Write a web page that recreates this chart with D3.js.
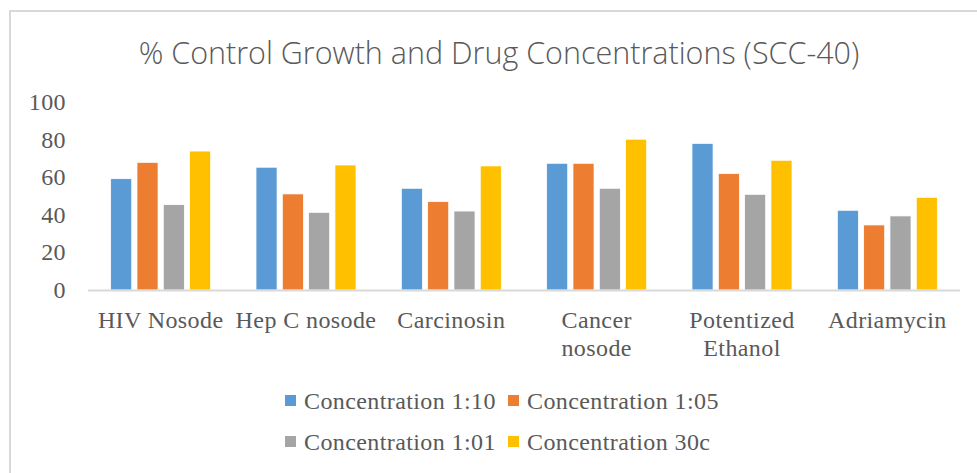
<!DOCTYPE html>
<html lang="en">
	<head>
		<meta charset="utf-8">
		<title>% Control Growth and Drug Concentrations (SCC-40)</title>
		<script src="https://d3js.org/d3.v7.min.js" charset="utf-8"></script>
		<style type="text/css">
		body { margin: 0; background: #fff; }
		.title { font-family: "Open Sans", sans-serif; font-weight: 300; font-size: 30.5px; fill: #595959; }
		.lbl { font-family: "Liberation Serif", serif; font-size: 24px; letter-spacing: 0.4px; fill: #595959; }
		</style>
	</head>
	<body>
		<div id="chart"></div>
		<script>
			var width = 977;
			var height = 473;

			// data
			var categories = [["HIV Nosode"], ["Hep C nosode"], ["Carcinosin"], ["Cancer", "nosode"], ["Potentized", "Ethanol"], ["Adriamycin"]];
			var seriesNames = ["Concentration 1:10", "Concentration 1:05", "Concentration 1:01", "Concentration 30c"];
			var conc110 = [59.2, 65.3, 54.1, 67.4, 78.0, 42.4];
			var conc105 = [67.9, 51.1, 47.0, 67.4, 61.9, 34.6];
			var conc101 = [45.4, 41.3, 42.0, 54.1, 50.9, 39.4];
			var conc30c = [73.9, 66.5, 66.0, 80.2, 69.0, 49.3];
			var yTicks = [0, 20, 40, 60, 80, 100];
			var colors = ["#5B9BD5", "#ED7D31", "#A5A5A5", "#FFC000"];

			var allSeries = [conc110, conc105, conc101, conc30c];
			var catKeys = categories.map(function(c) { return c.join(" "); });

			var svg = d3.select("#chart").append("svg")
				.attr("width", width)
				.attr("height", height);

			// chart area border
			svg.append("rect")
				.attr("x", 10).attr("y", 11)
				.attr("width", 1000).attr("height", 500)
				.attr("fill", "none")
				.attr("stroke", "#d9d9d9")
				.attr("stroke-width", 2);

			svg.append("text")
				.attr("class", "title")
				.attr("x", 499).attr("y", 64)
				.attr("text-anchor", "middle")
				.text("% Control Growth and Drug Concentrations (SCC-40)");

			var x0 = d3.scaleBand()
				.domain(catKeys)
				.range([88, 960])
				.paddingInner(0.312)
				.paddingOuter(0.156);

			var x1 = d3.scaleBand()
				.domain(d3.range(seriesNames.length))
				.range([0, x0.bandwidth()])
				.paddingInner(0.2);

			var y = d3.scaleLinear()
				.domain([0, 100])
				.range([290, 102]);

			// y tick labels
			svg.selectAll(".ytick")
				.data(yTicks)
				.enter().append("text")
				.attr("class", "lbl")
				.attr("x", 66)
				.attr("y", function(d) { return y(d) + 8; })
				.attr("text-anchor", "end")
				.text(function(d) { return d; });

			// bars
			var groups = svg.selectAll(".grp")
				.data(catKeys)
				.enter().append("g")
				.attr("transform", function(d) { return "translate(" + x0(d) + ",0)"; });

			groups.selectAll("rect")
				.data(function(d, i) { return allSeries.map(function(s, j) { return { s: j, v: s[i] }; }); })
				.enter().append("rect")
				.attr("x", function(d) { return x1(d.s); })
				.attr("width", x1.bandwidth())
				.attr("y", function(d) { return y(d.v); })
				.attr("height", function(d) { return y(0) - y(d.v); })
				.attr("fill", function(d) { return colors[d.s]; })
				.attr("stroke", "#fff")
				.attr("stroke-width", 0.75);

			// baseline
			svg.append("line")
				.attr("x1", 88).attr("x2", 960)
				.attr("y1", y(0) + 0.5).attr("y2", y(0) + 0.5)
				.attr("stroke", "#d9d9d9")
				.attr("stroke-width", 2);

			// category labels
			var catLabels = svg.selectAll(".cat")
				.data(categories)
				.enter().append("text")
				.attr("class", "lbl")
				.attr("text-anchor", "middle")
				.attr("x", function(d, i) { return x0(catKeys[i]) + x0.bandwidth() / 2; })
				.attr("y", 328);
			catLabels.selectAll("tspan")
				.data(function(d) { return d; })
				.enter().append("tspan")
				.attr("x", function() { return d3.select(this.parentNode).attr("x"); })
				.attr("dy", function(d, i) { return i ? 28 : 0; })
				.text(function(d) { return d; });

			// legend
			var legendPos = [[285, 409], [508, 409], [285, 450], [508, 450]];
			var legend = svg.selectAll(".leg")
				.data(seriesNames)
				.enter().append("g")
				.attr("transform", function(d, i) { return "translate(" + legendPos[i][0] + "," + legendPos[i][1] + ")"; });
			legend.append("rect")
				.attr("x", 0).attr("y", -14)
				.attr("width", 11).attr("height", 11)
				.attr("fill", function(d, i) { return colors[i]; });
			legend.append("text")
				.attr("class", "lbl")
				.attr("x", 19).attr("y", 0)
				.text(function(d) { return d; });
		</script>
	</body>
</html>
